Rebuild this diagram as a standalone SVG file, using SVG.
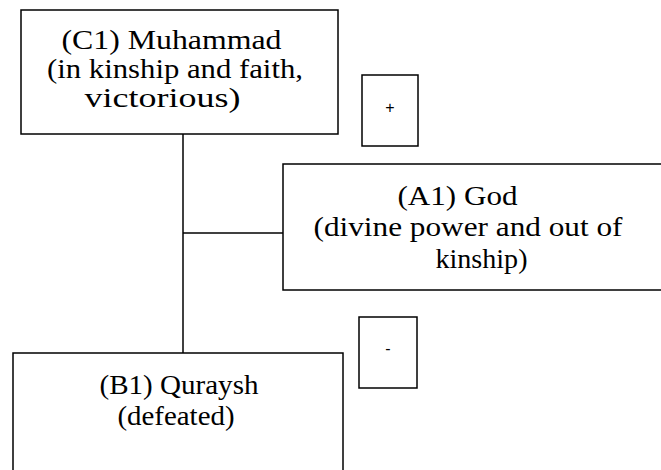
<svg xmlns="http://www.w3.org/2000/svg" width="661" height="470" viewBox="0 0 661 470">
<style>
.box{fill:#fff;stroke:#000;stroke-width:1.5}
.ln{stroke:#000;stroke-width:1.5;fill:none}
</style>
<rect width="661" height="470" fill="#fff"/>
<g id="connectors">
<line class="ln" x1="183" y1="134" x2="183" y2="353"/>
<line class="ln" x1="183" y1="233" x2="283" y2="233"/>
</g>
<g id="C1" font-family="'Liberation Serif', 'Times New Roman', serif" font-size="26.5" text-anchor="middle" fill="#000">
<rect class="box" x="21" y="10" width="317" height="124"/>
<text x="171.5" y="49" textLength="220" lengthAdjust="spacingAndGlyphs">(C1) Muhammad</text>
<text x="175" y="78" textLength="256" lengthAdjust="spacingAndGlyphs">(in kinship and faith,</text>
<text x="162.5" y="107" textLength="156" lengthAdjust="spacingAndGlyphs">victorious)</text>
</g>
<g id="plus" font-family="'Liberation Sans', Arial, sans-serif" font-size="16" text-anchor="middle" fill="#000">
<rect class="box" x="362" y="75" width="56" height="71"/>
<text x="390" y="113">+</text>
</g>
<g id="A1" font-family="'Liberation Serif', 'Times New Roman', serif" font-size="26.5" text-anchor="middle" fill="#000">
<rect class="box" x="283" y="164" width="380" height="126"/>
<text x="457.5" y="205" textLength="120" lengthAdjust="spacingAndGlyphs">(A1) God</text>
<text x="468" y="236" textLength="309" lengthAdjust="spacingAndGlyphs">(divine power and out of</text>
<text x="481.5" y="268" textLength="92" lengthAdjust="spacingAndGlyphs">kinship)</text>
</g>
<g id="minus" font-family="'Liberation Sans', Arial, sans-serif" font-size="16" text-anchor="middle" fill="#000">
<rect class="box" x="359" y="317" width="58" height="71"/>
<text x="388" y="354">-</text>
</g>
<g id="B1" font-family="'Liberation Serif', 'Times New Roman', serif" font-size="26.5" text-anchor="middle" fill="#000">
<rect class="box" x="13" y="353" width="330" height="125"/>
<text x="179" y="394" textLength="159" lengthAdjust="spacingAndGlyphs">(B1) Quraysh</text>
<text x="176" y="425" textLength="117" lengthAdjust="spacingAndGlyphs">(defeated)</text>
</g>
</svg>
